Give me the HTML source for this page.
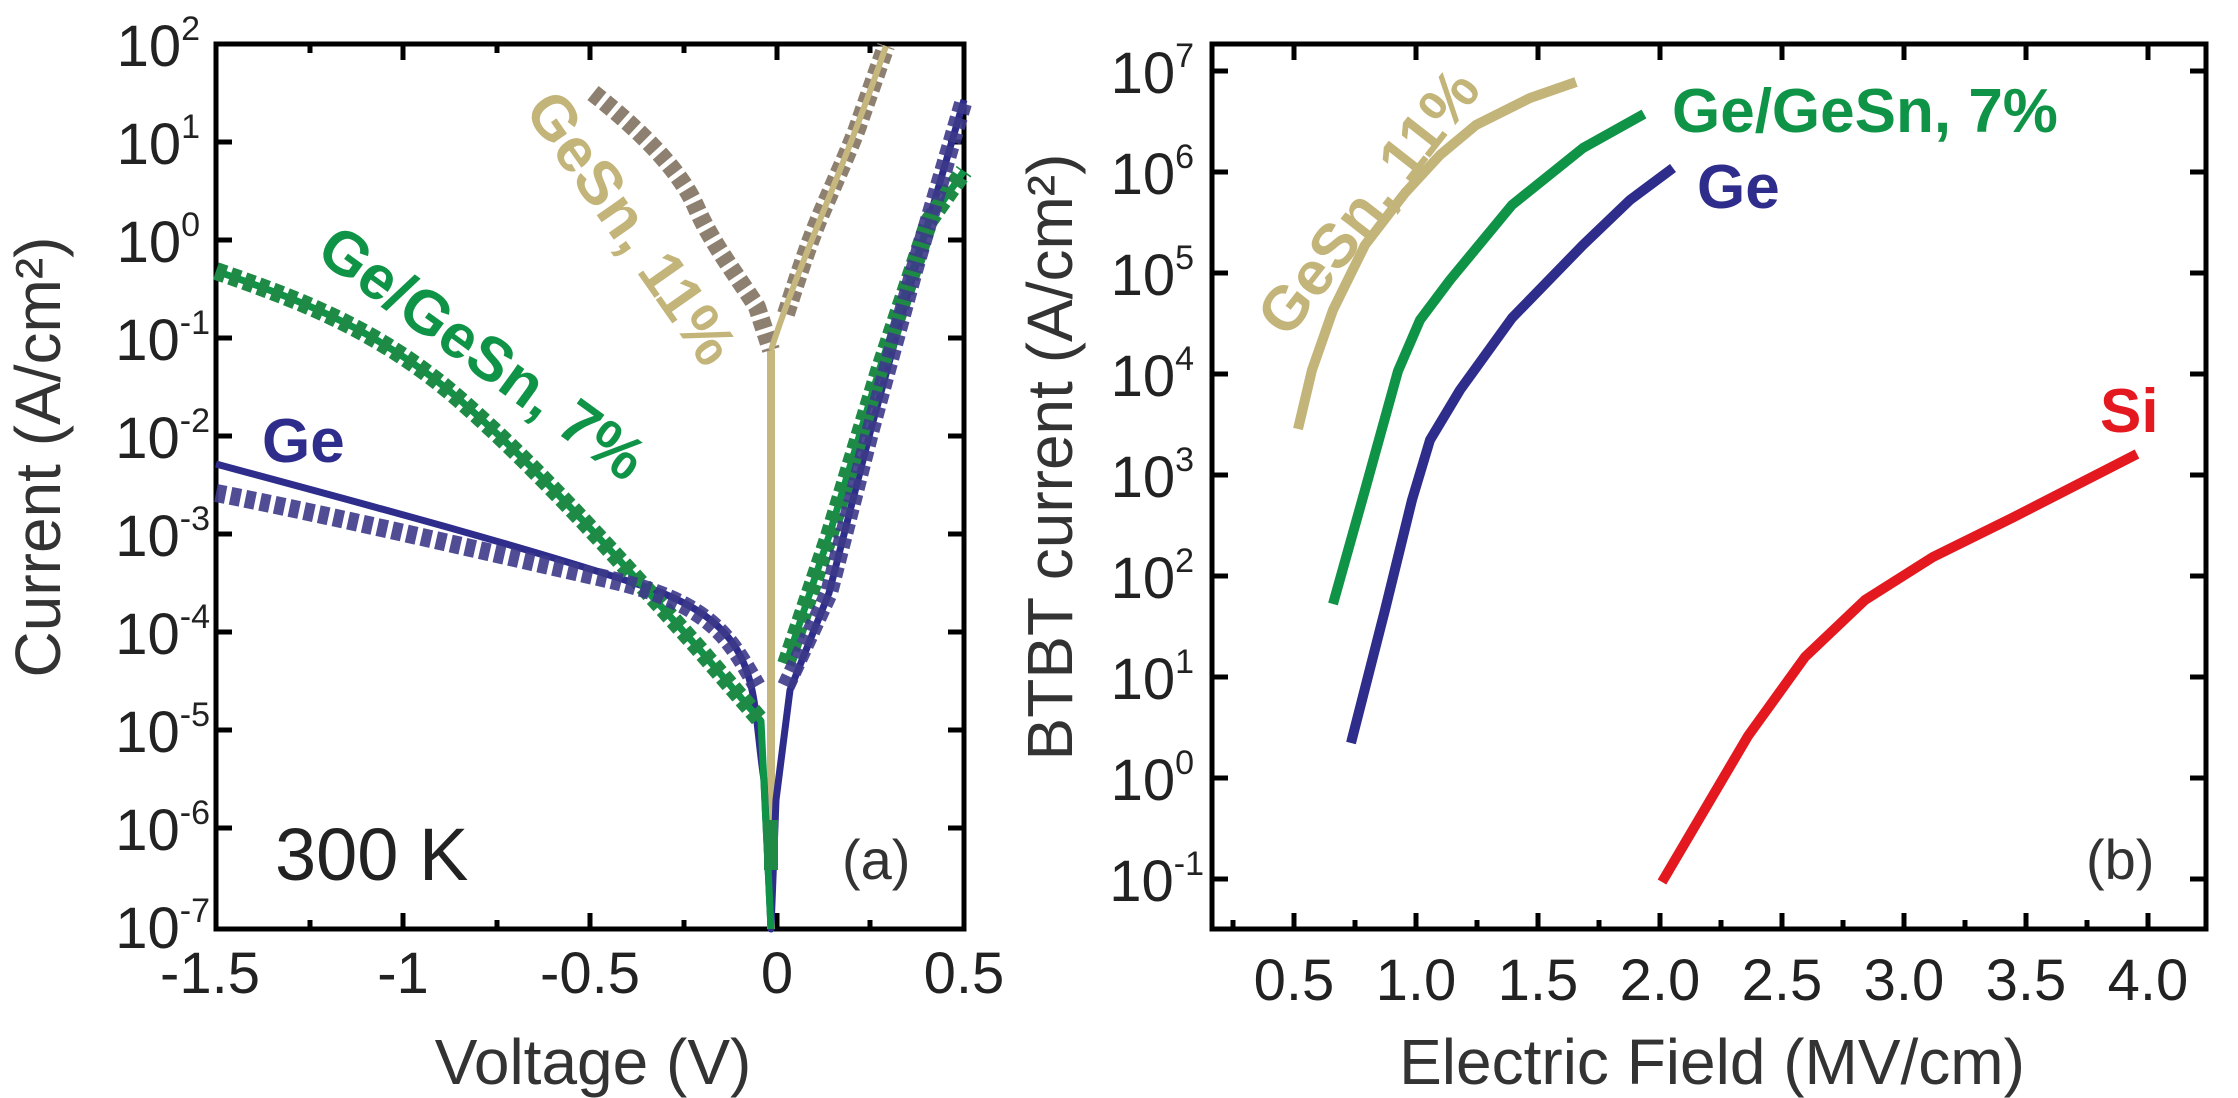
<!DOCTYPE html><html><head><style>body{margin:0;background:#fff}svg{display:block}text{font-family:"Liberation Sans",sans-serif}</style></head><body>
<svg width="2238" height="1098" viewBox="0 0 2238 1098" xmlns="http://www.w3.org/2000/svg">
<g fill="none" stroke="#000" stroke-width="5">
<rect x="216" y="44" width="748" height="885"/>
<rect x="1212" y="44" width="994" height="885"/>
<path d="M216 142h16M216 240h16M216 338h16M216 436h16M216 534h16M216 632h16M216 730h16M216 828h16M964 142h-16M964 240h-16M964 338h-16M964 436h-16M964 534h-16M964 632h-16M964 730h-16M964 828h-16
M403 929v-16M590 929v-16M777 929v-16M403 44v16M590 44v16M777 44v16M310 929v-9M497 929v-9M684 929v-9M870 929v-9M310 44v9M497 44v9M684 44v9M870 44v9
M1212 71h16M1212 172h16M1212 273h16M1212 374h16M1212 475h16M1212 576h16M1212 677h16M1212 778h16M1212 879h16M2206 71h-16M2206 172h-16M2206 273h-16M2206 374h-16M2206 475h-16M2206 576h-16M2206 677h-16M2206 778h-16M2206 879h-16
M1294 929v-16M1416 929v-16M1538 929v-16M1660 929v-16M1782 929v-16M1904 929v-16M2026 929v-16M2148 929v-16M1294 44v16M1416 44v16M1538 44v16M1660 44v16M1782 44v16M1904 44v16M2026 44v16M2148 44v16
M1233 929v-9M1355 929v-9M1477 929v-9M1599 929v-9M1721 929v-9M1843 929v-9M1965 929v-9M2087 929v-9"/>
</g>
<g font-size="58" fill="#222" text-anchor="end">
<text x="200" y="66">10<tspan font-size="34" dy="-26">2</tspan></text>
<text x="200" y="164">10<tspan font-size="34" dy="-26">1</tspan></text>
<text x="200" y="262">10<tspan font-size="34" dy="-26">0</tspan></text>
<text x="210" y="360">10<tspan font-size="34" dy="-26">-1</tspan></text>
<text x="210" y="458">10<tspan font-size="34" dy="-26">-2</tspan></text>
<text x="210" y="556">10<tspan font-size="34" dy="-26">-3</tspan></text>
<text x="210" y="654">10<tspan font-size="34" dy="-26">-4</tspan></text>
<text x="210" y="752">10<tspan font-size="34" dy="-26">-5</tspan></text>
<text x="210" y="850">10<tspan font-size="34" dy="-26">-6</tspan></text>
<text x="210" y="948">10<tspan font-size="34" dy="-26">-7</tspan></text>
<text x="1194" y="93">10<tspan font-size="34" dy="-26">7</tspan></text>
<text x="1194" y="194">10<tspan font-size="34" dy="-26">6</tspan></text>
<text x="1194" y="295">10<tspan font-size="34" dy="-26">5</tspan></text>
<text x="1194" y="396">10<tspan font-size="34" dy="-26">4</tspan></text>
<text x="1194" y="497">10<tspan font-size="34" dy="-26">3</tspan></text>
<text x="1194" y="598">10<tspan font-size="34" dy="-26">2</tspan></text>
<text x="1194" y="699">10<tspan font-size="34" dy="-26">1</tspan></text>
<text x="1194" y="800">10<tspan font-size="34" dy="-26">0</tspan></text>
<text x="1204" y="901">10<tspan font-size="34" dy="-26">-1</tspan></text>
</g>
<g font-size="58" fill="#222" text-anchor="middle">
<text x="210" y="993">-1.5</text><text x="403" y="993">-1</text><text x="590" y="993">-0.5</text><text x="777" y="993">0</text><text x="964" y="993">0.5</text>
<text x="1294" y="1000">0.5</text><text x="1416" y="1000">1.0</text><text x="1538" y="1000">1.5</text><text x="1660" y="1000">2.0</text><text x="1782" y="1000">2.5</text><text x="1904" y="1000">3.0</text><text x="2026" y="1000">3.5</text><text x="2148" y="1000">4.0</text>
</g>
<g font-size="64" fill="#333" text-anchor="middle">
<text x="593" y="1084">Voltage (V)</text>
<text x="1712" y="1084">Electric Field (MV/cm)</text>
<text transform="translate(60,457) rotate(-90)">Current (A/cm²)</text>
<text transform="translate(1072,457) rotate(-90)">BTBT current (A/cm²)</text>
</g>
<text x="275" y="880" font-size="74" fill="#222">300 K</text>
<text x="842" y="879" font-size="56" fill="#333">(a)</text>
<text x="2086" y="879" font-size="56" fill="#333">(b)</text>
<g fill="none" stroke-linejoin="round" stroke-linecap="butt">
<path d="M771 350V929" stroke="#c6b77e" stroke-width="8"/>
<path d="M216 464C330 495 520 545 643 586S750 690 764 780L771 929L776 800L790 690L829 593L871 429L914 271L964 100" stroke="#2e2d8c" stroke-width="7"/>
<path d="M216 271C300 300 380 330 460 400S620 560 700 650L761 721L771 929M786 664L829 536L879 371L929 221L964 171" stroke="#0f9447" stroke-width="7"/>
<path d="M216 271C300 300 380 330 460 400S620 560 700 650L761 721M786 664L829 536L879 371L929 221L964 171" stroke="#1e8a46" stroke-width="18" stroke-dasharray="10 5"/>
<path d="M216 493C330 515 500 555 607 579S730 640 757 686M786 686L829 593L871 429L914 271L964 100" stroke="#3d3a8a" stroke-width="18" stroke-dasharray="10 5" opacity="0.9"/>
<path d="M593 93C640 130 680 170 696 207S740 280 757 307L771 350M786 314C800 270 810 240 821 214S845 160 857 129L886 46" stroke="#8e8070" stroke-width="18" stroke-dasharray="10 5"/>
<path d="M771 350C800 260 840 180 886 46" stroke="#c6b77e" stroke-width="6"/>
<rect x="764" y="820" width="14" height="50" fill="#1e8a46"/>
<path d="M1298 429L1312 370L1333 310L1365 245L1405 193L1440 155L1476 125L1530 98L1576 82" stroke="#c3b47a" stroke-width="10"/>
<path d="M1333 604L1365 490L1398 371L1420 320L1450 280L1512 205L1583 148L1644 114" stroke="#0f9447" stroke-width="10"/>
<path d="M1351 743L1385 610L1412 500L1430 440L1460 390L1512 318L1583 245L1630 200L1673 168" stroke="#2e2d8c" stroke-width="10"/>
<path d="M1662 882L1748 736L1805 657L1865 600L1933 557L2012 518L2137 454" stroke="#e3191f" stroke-width="10"/>
</g>
<g font-weight="bold" font-size="62">
<text transform="translate(614,240) rotate(55)" text-anchor="middle" fill="#c3b47a">GeSn, 11%</text>
<text transform="translate(470,370) rotate(36)" text-anchor="middle" fill="#0f9447">Ge/GeSn, 7%</text>
<text x="262" y="462" fill="#2e2d8c">Ge</text>
<text transform="translate(1385,215) rotate(-52)" text-anchor="middle" fill="#c3b47a">GeSn, 11%</text>
<text x="1672" y="132" fill="#0f9447">Ge/GeSn, 7%</text>
<text x="1697" y="208" fill="#2e2d8c">Ge</text>
<text x="2100" y="432" fill="#e3191f">Si</text>
</g>
</svg></body></html>
